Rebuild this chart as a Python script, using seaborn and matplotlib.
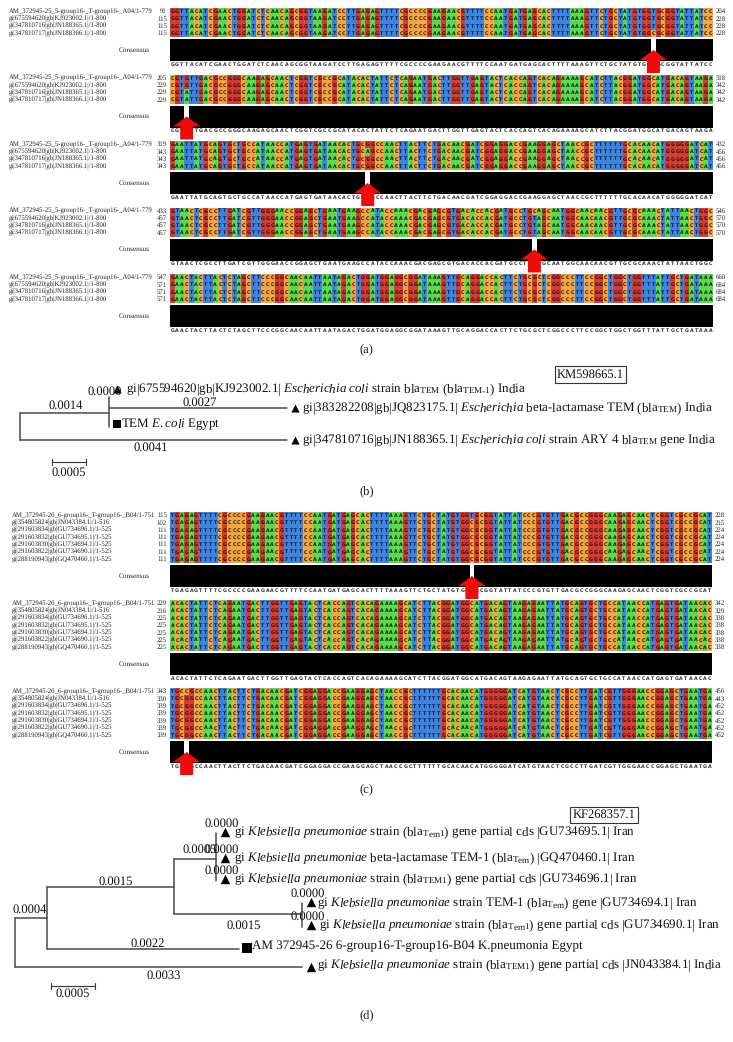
import numpy as np, pandas as pd
import matplotlib
matplotlib.use("Agg")
import matplotlib.pyplot as plt
from matplotlib.colors import ListedColormap
import seaborn as sns

sns.set_theme(style="white")
plt.rcParams['font.family'] = ['Liberation Serif', 'DejaVu Sans']
plt.rcParams['mathtext.fontset'] = 'custom'
plt.rcParams['mathtext.rm'] = 'Liberation Serif'
plt.rcParams['mathtext.it'] = 'Liberation Serif:italic'
plt.rcParams['mathtext.bf'] = 'Liberation Serif:bold'
plt.rcParams['text.hinting'] = 'no_hinting'

# ---------- alignment data ----------
a_labels = ["AM_372945-25_5-group16-_T-group16-_A04/1-779", "gi|675594620|gb|KJ923002.1|/1-800",
            "gi|347810716|gb|JN188365.1|/1-800", "gi|347810717|gb|JN188366.1|/1-800"]
a_seqs = ["GGTTACATCGAACTGGATCTCAACAGCGGTAAGATCCTTGAGAGTTTTCGCCCCGAAGAACGTTTTCCAATGATGAGCACTTTTAAAGTTCTGCTATGTGGCGCGGTATTATCC",
          "CGTGTTGACGCCGGGCAAGAGCAACTCGGTCGCCGCATACACTATTCTCAGAATGACTTGGTTGAGTACTCACCAGTCACAGAAAAGCATCTTACGGATGGCATGACAGTAAGA",
          "GAATTATGCAGTGCTGCCATAACCATGAGTGATAACACTGCGGCCAACTTACTTCTGACAACGATCGGAGGACCGAAGGAGCTAACCGCTTTTTTGCACAACATGGGGGATCAT",
          "GTAACTCGCCTTGATCGTTGGGAACCGGAGCTGAATGAAGCCATACCAAACGACGAGCGTGACACCACGATGCCTGTAGCAATGGCAACAACGTTGCGCAAACTATTAACTGGC",
          "GAACTACTTACTCTAGCTTCCCGGCAACAATTAATAGACTGGATGGAGGCGGATAAAGTTGCAGGACCACTTCTGCGCTCGGCCCTTCCGGCTGGCTGGTTTATTGCTGATAAA"]
a_left = [[91, 115, 115, 115], [205, 229, 229, 229], [319, 343, 343, 343], [433, 457, 457, 457], [547, 571, 571, 571]]
a_right = [[204, 228, 228, 228], [318, 342, 342, 342], [432, 456, 456, 456], [546, 570, 570, 570], [660, 684, 684, 684]]
# per block: (column, {row: letter}) or None
a_var = [(101, {0: 'T', 1: 'T', 2: 'T', 3: 'C'}), (3, {0: 'G', 1: 'G', 2: 'A', 3: 'A'}),
         (41, {0: 'G', 1: 'A', 2: 'G', 3: 'G'}), (76, {0: 'C', 1: 'T', 2: 'T', 3: 'T'}), None]

c_labels = ["AM_372945-26_6-group16-_T-group16-_B04/1-751", "gi|354805824|gb|JN043384.1|/1-516",
            "gi|291603834|gb|GU734696.1|/1-525", "gi|291603832|gb|GU734695.1|/1-525",
            "gi|291603830|gb|GU734694.1|/1-525", "gi|291603822|gb|GU734690.1|/1-525",
            "gi|288190943|gb|GQ470460.1|/1-525"]
c_seqs = ["TGAGAGTTTTCGCCCCGAAGAACGTTTTCCAATGATGAGCACTTTTAAAGTTCTGCTATGTGGCGCGGTATTATCCCGTGTTGACGCCGGGCAAGAGCAACTCGGTCGCCGCAT",
          "ACACTATTCTCAGAATGACTTGGTTGAGTACTCACCAGTCACAGAAAAGCATCTTACGGATGGCATGACAGTAAGAGAATTATGCAGTGCTGCCATAACCATGAGTGATAACAC",
          "TGCGGCCAACTTACTTCTGACAACGATCGGAGGACCGAAGGAGCTAACCGCTTTTTTGCACAACATGGGGGATCATGTAACTCGCCTTGATCGTTGGGAACCGGAGCTGAATGA"]
c_left = [[115, 102, 111, 111, 111, 111, 111], [229, 216, 225, 225, 225, 225, 225], [343, 330, 339, 339, 339, 339, 339]]
c_right = [[228, 215, 224, 224, 224, 224, 224], [342, 329, 338, 338, 338, 338, 338], [456, 443, 452, 452, 452, 452, 452]]
c_var = [(63, {0: 'T', 1: 'C', 2: 'C', 3: 'C', 4: 'C', 5: 'C', 6: 'C'}), None,
         (3, {0: 'C', 1: 'G', 2: 'G', 3: 'G', 4: 'G', 5: 'G', 6: 'G'})]

NUC = "ACGT"
NUC_COL = ListedColormap(["#58DC4A", "#F6A63C", "#DB3A30", "#3C84E4"])
W, H = 733, 1042

fig = plt.figure(figsize=(W / 100, H / 100), dpi=100)
fig.patch.set_facecolor("white")


def px_axes(x0, y0, x1, y1, z=1):
    return fig.add_axes([x0 / W, 1 - y1 / H, (x1 - x0) / W, (y1 - y0) / H], zorder=z)


ov = fig.add_axes([0, 0, 1, 1], zorder=10)
ov.set_xlim(0, W); ov.set_ylim(H, 0); ov.axis("off"); ov.patch.set_alpha(0)


def block(seq, var, labels, left, right, x0, x1, lx, top, cbot, btop, bbot, ty):
    nrow, ncol = len(labels), len(seq)
    rows = [list(seq) for _ in range(nrow)]
    if var:
        for r, l in var[1].items():
            rows[r][var[0]] = l
    codes = np.array([[NUC.index(c) for c in r] for r in rows])
    ax = px_axes(x0, top, x1, cbot)
    sns.heatmap(codes, ax=ax, cmap=NUC_COL, vmin=0, vmax=3, cbar=False, xticklabels=False,
                yticklabels=False, annot=np.array(rows), fmt="",
                annot_kws=dict(size=3.4, color="#1a1a1a", fontweight="bold", family="DejaVu Sans"))
    # consensus bar
    cons = np.zeros((1, ncol))
    letters = list(seq)
    if var:
        cons[0, var[0]] = 1
        letters[var[0]] = ""
    ax2 = px_axes(x0, btop, x1, bbot)
    sns.heatmap(cons, ax=ax2, cmap=ListedColormap(["black", "white"]), vmin=0, vmax=1, cbar=False,
                xticklabels=False, yticklabels=False)
    ax3 = px_axes(x0, ty - 3, x1, ty + 3)
    sns.heatmap(np.zeros((1, ncol)), ax=ax3, cmap=ListedColormap(["white"]), cbar=False, xticklabels=False,
                yticklabels=False, annot=np.array([letters]), fmt="",
                annot_kws=dict(size=3.4, color="#333333", fontweight="bold", family="DejaVu Sans"))
    rh = (cbot - top) / nrow
    for i, lab in enumerate(labels):
        yy = top + (i + 0.5) * rh
        ov.text(lx, yy, lab, fontsize=4.85, va="center", ha="left", color="#222222")
        ov.text(x0 - 3, yy, str(left[i]), fontsize=4.85, va="center", ha="right", color="#222222")
        ov.text(x1 + 3, yy, str(right[i]), fontsize=4.85, va="center", ha="left", color="#222222")
    ov.text(150, (btop + bbot) / 2, "Consensus", fontsize=5.2, va="center", ha="right", color="#222222")
    if var:
        cx = x0 + (var[0] + 0.5) * (x1 - x0) / ncol
        tip = btop + 11
        ov.fill([cx, cx + 13.5, cx + 6.5, cx + 6.5, cx - 6.5, cx - 6.5, cx - 13.5],
                [tip, tip + 10, tip + 10, tip + 23, tip + 23, tip + 10, tip + 10], color="#F00A0A", lw=0, zorder=5)


for i in range(5):
    d = 66.5 * i
    block(a_seqs[i], a_var[i], a_labels, a_left[i], a_right[i], 170, 713, 9, 8 + d, 37 + d, 39 + d, 61 + d, 64.5 + d)
c_tops = [512, 600, 688]
for i in range(3):
    t = c_tops[i]
    block(c_seqs[i], c_var[i], c_labels, c_left[i], c_right[i], 170, 712, 12, t, t + 51, t + 53, t + 75, t + 78.5)

for txt, yy in zip(["(a)", "(b)", "(c)", "(d)"], [349, 491, 789, 1015]):
    ov.text(366.5, yy, txt, fontsize=9, ha="center", va="center", color="#222222")


# ---------- trees ----------
def tree(segments, root_px, px_per_unit):
    ax = fig.add_axes([0, 0, 1, 1], zorder=6)
    recs = []
    for k, (xa, ya, xb, yb) in enumerate(segments):
        recs += [dict(x=xa, y=ya, s=k), dict(x=xb, y=yb, s=k)]
    sns.lineplot(data=pd.DataFrame(recs), x="x", y="y", units="s", estimator=None, sort=False,
                 color="#4a4a4a", lw=1.1, ax=ax, legend=False)
    ax.set_xlim(-root_px / px_per_unit, (W - root_px) / px_per_unit)
    ax.set_ylim(H, 0)
    ax.axis("off"); ax.patch.set_alpha(0)
    return ax


def marks(ax, xs, ys, marker, s):
    sns.scatterplot(x=xs, y=ys, marker=marker, s=s, color="black", linewidth=0, ax=ax, legend=False, zorder=7)


def scale_bar(ax, x0, length, y):
    df = pd.DataFrame(dict(x=[x0, x0 + length, x0, x0, x0 + length, x0 + length],
                           y=[y, y, y - 3, y + 3, y - 3, y + 3], s=[0, 0, 1, 1, 2, 2]))
    sns.lineplot(data=df, x="x", y="y", units="s", estimator=None, sort=False, color="#333333", lw=0.8,
                 ax=ax, legend=False)


# panel (b)
b_node, b_mid, b_bot, b_bar = 0.00135, 0.0027, 0.00405, 0.00052
b_y = dict(top=396.7, mid=408.3, sq=427.3, bot=440, node=413.3, bar=461.7)
ax = tree([(0, b_y['node'], 0, b_y['bot']), (0, b_y['node'], b_node, b_y['node']),
           (b_node, b_y['top'], b_node, b_y['sq']), (b_node, b_y['mid'], b_node + b_mid, b_y['mid']),
           (0, b_y['bot'], b_bot, b_y['bot'])], 19.7, 66000)
marks(ax, [b_node + 0.00013], [388.5], "^", 34)
marks(ax, [b_node + b_mid + 0.00012, b_bot + 0.00012], [408, 440], "^", 34)
marks(ax, [b_node + 0.00012], [424], "s", 34)
scale_bar(ax, 0.00049, b_bar, b_y['bar'])
ax.set_xlim(-19.7 / 66000, (W - 19.7) / 66000); ax.set_ylim(H, 0); ax.axis("off")

FS = 9.4
VS = 9.0
b_texts = [(126, 389, r"gi|675594620|gb|KJ923002.1| $\mathit{Escherichia\ coli}$ strain bla$_{\mathrm{TEM}}$ (bla$_{\mathrm{TEM}\text{-}\mathrm{1}}$) India"),
           (302, 408, r"gi|383282208|gb|JQ823175.1| $\mathit{Escherichia}$ beta-lactamase TEM (bla$_{\mathrm{TEM}}$) India"),
           (302, 440, r"gi|347810716|gb|JN188365.1| $\mathit{Escherichia\ coli}$ strain ARY 4 bla$_{\mathrm{TEM}}$ gene India"),
           (121, 424, r"TEM $\mathit{E.coli}$ Egypt")]
for x, y, t in b_texts:
    ov.text(x, y, t, fontsize=FS, ha="left", va="center", color="#111111")
b_vals = [(105, 392, "0.0000"), (66, 406, "0.0014"), (200, 402.7, "0.0027"), (151, 448, "0.0041"), (69, 473, "0.0005")]
for x, y, t in b_vals:
    ov.text(x, y, t, fontsize=VS, ha="center", va="center", color="#111111")
ov.text(590.5, 374.5, "KM598665.1", fontsize=VS, ha="center", va="center", color="#111111",
        bbox=dict(boxstyle="square,pad=0.18", fc="white", ec="#333333", lw=0.8))

# panel (d)
d_n1, d_A, d_B, d_C, d_sq, d_JN, d_bar = 0.00037, 0.00148, 0.00049, 0.00149, 0.00223, 0.00334, 0.00051
xA = d_n1 + d_A
ax = tree([(0, 917.7, 0, 966.7), (0, 917.7, d_n1, 917.7), (0, 966.7, d_JN, 966.7),
           (d_n1, 886.7, d_n1, 949.3), (d_n1, 886.7, xA, 886.7), (d_n1, 949.3, d_n1 + d_sq, 949.3),
           (xA, 859.3, xA, 914), (xA, 859.3, xA + d_B, 859.3), (xA, 914, xA + d_C, 914),
           (xA + d_B, 833.3, xA + d_B, 880.7), (xA + d_C, 903.3, xA + d_C, 926.7)], 15, 86000)
off = 0.0001
marks(ax, [xA + d_B + off] * 3, [832, 857.7, 879.3], "^", 46)
marks(ax, [xA + d_C + off] * 2 + [d_JN + off], [902, 925.3, 966.7], "^", 46)
marks(ax, [d_n1 + d_sq + off], [947.7], "s", 55)
scale_bar(ax, 0.00042, d_bar, 986)
ax.set_xlim(-15 / 86000, (W - 15) / 86000); ax.set_ylim(H, 0); ax.axis("off")

KP = r"$\mathit{Klebsiella\ pneumoniae}$"
d_texts = [(234.5, 832.3, r"gi " + KP + r" strain (bla$_{\mathrm{Tem1}}$) gene partial cds |GU734695.1| Iran"),
           (234.5, 857.7, r"gi " + KP + r" beta-lactamase TEM-1 (bla$_{\mathrm{Tem}}$) |GQ470460.1| Iran"),
           (234.5, 878.7, r"gi " + KP + r" strain (bla$_{\mathrm{TEM1}}$) gene partial cds |GU734696.1| Iran"),
           (317, 902.7, r"gi " + KP + r" strain TEM-1 (bla$_{\mathrm{Tem}}$) gene |GU734694.1| Iran"),
           (319, 925.3, r"gi " + KP + r" strain (bla$_{\mathrm{Tem1}}$) gene partial cds |GU734690.1| Iran"),
           (252, 946, "AM 372945-26 6-group16-T-group16-B04 K.pneumonia Egypt"),
           (317, 965, r"gi " + KP + r" strain (bla$_{\mathrm{TEM1}}$) gene partial cds |JN043384.1| India")]
for x, y, t in d_texts:
    ov.text(x, y, t, fontsize=FS, ha="left", va="center", color="#111111")
d_vals = [(222, 824, "0.0000"), (200, 849.3, "0.0005"), (222, 849.3, "0.0000"), (222, 870.7, "0.0000"),
          (308, 893.3, "0.0000"), (308, 916.7, "0.0000"), (116, 881.3, "0.0015"), (243.4, 925.3, "0.0015"),
          (29.6, 909.3, "0.0004"), (148, 943.3, "0.0022"), (164, 975.7, "0.0033"), (73, 993.7, "0.0005")]
for x, y, t in d_vals:
    ov.text(x, y, t, fontsize=VS, ha="center", va="center", color="#111111")
ov.text(604, 815, "KF268357.1", fontsize=VS, ha="center", va="center", color="#111111",
        bbox=dict(boxstyle="square,pad=0.18", fc="white", ec="#333333", lw=0.8))

fig.savefig("out.png", dpi=100, facecolor="white")
